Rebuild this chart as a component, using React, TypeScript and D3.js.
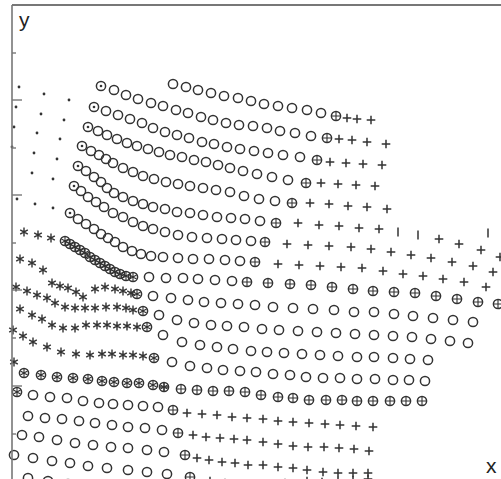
import React from "react";
import * as d3 from "d3";

const W = 501;
const H = 479;

// Marker codes: o circle, d circle+dot, p circle+plus, s circle+asterisk,
// q circle+plus+asterisk, + plus, * asterisk, | bar
const rowA_x = [1.73,1.86,1.98,2.11,2.24,2.38,2.51,2.64,2.78,2.92,3.07,3.21,3.36,3.47,3.57,3.71];
const rowA_y = [0.84,0.87,0.90,0.93,0.96,0.98,1.01,1.04,1.06,1.08,1.10,1.13,1.16,1.18,1.19,1.20];
const rowA_m = "o".repeat(12) + "p+++";

const rowB_x = [1.01,1.14,1.26,1.38,1.51,1.63,1.76,1.88,2.01,2.13,2.26,2.39,2.53,2.67,2.80,2.95,3.11,3.27,3.39,3.52,3.67,3.86];
const rowB_y = [0.86,0.90,0.95,0.99,1.03,1.06,1.10,1.13,1.17,1.20,1.23,1.25,1.26,1.28,1.31,1.33,1.36,1.38,1.39,1.40,1.42,1.44];
const rowB_m = "d" + "o".repeat(16) + "p++++";

const rowC_x = [0.94,1.06,1.18,1.30,1.42,1.53,1.65,1.77,1.89,2.02,2.14,2.27,2.40,2.54,2.68,2.83,3.00,3.17,3.30,3.46,3.63,3.82];
const rowC_y = [1.07,1.11,1.15,1.19,1.23,1.28,1.32,1.35,1.38,1.42,1.44,1.47,1.49,1.51,1.53,1.55,1.57,1.60,1.62,1.63,1.64,1.65];
const rowC_m = "d" + "o".repeat(16) + "p++++";

const rowD_x = [0.88,0.98,1.07,1.17,1.27,1.37,1.48,1.59,1.70,1.82,1.94,2.06,2.18,2.30,2.43,2.57,2.72,2.88,3.06,3.21,3.38,3.56,3.75];
const rowD_y = [1.27,1.31,1.35,1.39,1.43,1.46,1.49,1.52,1.55,1.57,1.60,1.62,1.65,1.68,1.71,1.74,1.77,1.80,1.83,1.83,1.84,1.85,1.86];
const rowD_m = "d" + "o".repeat(17) + "p++++";

const rowE_x = [0.82,0.91,0.99,1.06,1.13,1.23,1.33,1.43,1.54,1.66,1.78,1.90,2.03,2.16,2.30,2.44,2.59,2.75,2.92,3.10,3.29,3.48,3.67,3.87];
const rowE_y = [1.46,1.51,1.55,1.59,1.63,1.68,1.72,1.76,1.79,1.82,1.84,1.86,1.88,1.90,1.92,1.96,1.99,2.01,2.03,2.03,2.04,2.06,2.07,2.09];
const rowE_m = "d" + "o".repeat(17) + "p+++++";

const rowF_x = [0.78,0.86,0.94,1.01,1.07,1.14,1.23,1.33,1.43,1.53,1.65,1.77,1.90,2.03,2.17,2.31,2.45,2.60,2.76,2.98,3.19,3.39,3.59,3.79,3.98,4.18,4.39,4.59,4.81,5.00];
const rowF_y = [1.66,1.71,1.77,1.82,1.88,1.93,1.97,2.01,2.04,2.07,2.09,2.12,2.13,2.15,2.17,2.18,2.19,2.21,2.23,2.23,2.25,2.26,2.28,2.29,2.32,2.35,2.39,2.44,2.50,2.57];
const rowF_m = "d" + "o".repeat(17) + "p+++++||++++";

const rowG_x = [0.74,0.81,0.88,0.96,1.04,1.13,1.23,1.33,1.43,1.53,1.65,1.78,1.92,2.07,2.22,2.36,2.51,2.65,2.87,3.08,3.29,3.51,3.71,3.91,4.11,4.31,4.52,4.73,4.93];
const rowG_y = [1.86,1.91,1.97,2.02,2.07,2.13,2.17,2.22,2.26,2.29,2.32,2.35,2.37,2.38,2.39,2.40,2.41,2.42,2.44,2.45,2.46,2.47,2.49,2.52,2.55,2.58,2.62,2.66,2.72];
const rowG_m = "d" + "o".repeat(16) + "p" + "+".repeat(11);

const rowH_x = [0.70,0.78,0.86,0.94,1.01,1.08,1.15,1.23,1.32,1.41,1.51,1.63,1.78,1.93,2.09,2.25,2.40,2.55,2.78,2.99,3.20,3.41,3.62,3.83,4.03,4.23,4.43,4.64,4.86];
const rowH_y = [2.13,2.19,2.24,2.29,2.34,2.38,2.42,2.47,2.51,2.54,2.56,2.57,2.58,2.59,2.59,2.60,2.61,2.62,2.64,2.65,2.66,2.67,2.68,2.71,2.74,2.76,2.79,2.82,2.87];
const rowH_m = "d" + "o".repeat(16) + "p" + "+".repeat(11);

const rowI_x = [0.24,0.38,0.51,0.65,0.70,0.75,0.80,0.85,0.90,0.95,1.00,1.05,1.10,1.15,1.20,1.26,1.33,1.49,1.66,1.83,1.98,2.15,2.32,2.47,2.68,2.90,3.11,3.32,3.53,3.73,3.94,4.15,4.36,4.57,4.78,4.98];
const rowI_y = [2.32,2.35,2.38,2.41,2.44,2.47,2.50,2.53,2.57,2.60,2.63,2.66,2.69,2.72,2.74,2.76,2.77,2.77,2.78,2.78,2.79,2.80,2.81,2.82,2.83,2.84,2.85,2.87,2.89,2.91,2.92,2.93,2.96,2.99,3.02,3.04];
const rowI_m = "***" + "s".repeat(14) + "o".repeat(6) + "p".repeat(13);

const rowJ_x = [0.20,0.32,0.43,0.52,0.60,0.68,0.76,0.83,0.95,1.05,1.15,1.23,1.31,1.37,1.53,1.71,1.88,2.04,2.21,2.38,2.55,2.73,2.93,3.13,3.34,3.54,3.74,3.94,4.13,4.33,4.53,4.73];
const rowJ_y = [2.59,2.63,2.70,2.83,2.86,2.88,2.92,2.97,2.89,2.87,2.89,2.91,2.93,2.94,2.96,2.98,3.00,3.02,3.03,3.04,3.05,3.07,3.08,3.09,3.10,3.12,3.12,3.14,3.16,3.18,3.20,3.22];
const rowJ_m = "*".repeat(13) + "s" + "o".repeat(18);

const rowK_x = [0.16,0.27,0.37,0.47,0.55,0.65,0.75,0.85,0.95,1.06,1.17,1.26,1.33,1.43,1.59,1.77,1.94,2.11,2.27,2.44,2.62,2.79,2.98,3.17,3.36,3.55,3.74,3.93,4.12,4.31,4.50,4.68];
const rowK_y = [2.87,2.91,2.95,2.98,3.03,3.07,3.08,3.08,3.08,3.07,3.07,3.08,3.10,3.11,3.15,3.20,3.23,3.25,3.26,3.27,3.29,3.30,3.31,3.32,3.33,3.34,3.35,3.36,3.37,3.39,3.41,3.43];
const rowK_m = "*".repeat(13) + "s" + "o".repeat(18);

const rowL_x = [0.20,0.32,0.42,0.52,0.63,0.75,0.86,0.97,1.07,1.17,1.27,1.37,1.47,1.63,1.82,2.00,2.17,2.33,2.51,2.67,2.84,3.02,3.20,3.38,3.57,3.74,3.93,4.10,4.28];
const rowL_y = [3.09,3.15,3.19,3.25,3.28,3.28,3.25,3.25,3.25,3.26,3.26,3.27,3.27,3.35,3.42,3.45,3.47,3.49,3.51,3.52,3.53,3.54,3.55,3.56,3.57,3.57,3.58,3.59,3.60];
const rowL_m = "*".repeat(12) + "s" + "o".repeat(16);

const rowM_x = [0.13,0.23,0.33,0.47,0.61,0.76,0.90,1.02,1.12,1.23,1.33,1.43,1.54,1.72,1.90,2.07,2.23,2.40,2.56,2.73,2.90,3.06,3.23,3.40,3.57,3.75,3.93,4.09,4.25];
const rowM_y = [3.30,3.36,3.42,3.47,3.52,3.54,3.55,3.54,3.54,3.55,3.55,3.56,3.58,3.62,3.66,3.68,3.70,3.71,3.72,3.74,3.75,3.77,3.78,3.78,3.79,3.79,3.80,3.80,3.81];
const rowM_m = "*".repeat(12) + "s" + "o".repeat(16);

const rowN_x = [0.14,0.24,0.41,0.57,0.73,0.88,1.02,1.14,1.27,1.39,1.53,1.64,1.81,1.97,2.13,2.29,2.45,2.61,2.78,2.93,3.09,3.26,3.42,3.57,3.73,3.90,4.06,4.22];
const rowN_y = [3.62,3.73,3.75,3.77,3.78,3.79,3.81,3.82,3.83,3.83,3.85,3.87,3.89,3.90,3.91,3.91,3.92,3.95,3.97,3.98,4.00,4.00,4.00,4.01,4.01,4.01,4.01,4.01];
const rowN_m = "*" + "s".repeat(10) + "q" + "p".repeat(16);

const rowO_x = [0.17,0.33,0.50,0.67,0.83,0.99,1.13,1.28,1.43,1.58,1.73,1.87,2.02,2.17,2.32,2.47,2.63,2.78,2.93,3.09,3.25,3.40,3.56,3.73];
const rowO_y = [3.92,3.95,3.97,3.98,4.01,4.03,4.04,4.05,4.06,4.07,4.10,4.13,4.14,4.15,4.17,4.18,4.19,4.21,4.22,4.23,4.24,4.25,4.26,4.27];
const rowO_m = "s" + "o".repeat(9) + "p" + "+".repeat(13);

const rowP_x = [0.28,0.45,0.62,0.79,0.95,1.12,1.28,1.45,1.62,1.78,1.93,2.06,2.20,2.34,2.47,2.63,2.78,2.93,3.08,3.24,3.39,3.54,3.69];
const rowP_y = [4.16,4.18,4.19,4.21,4.23,4.25,4.27,4.28,4.30,4.33,4.35,4.37,4.38,4.39,4.40,4.42,4.44,4.46,4.47,4.47,4.48,4.49,4.51];
const rowP_m = "o".repeat(9) + "p" + "+".repeat(13);

const rowQ_x = [0.22,0.39,0.57,0.75,0.93,1.11,1.28,1.47,1.64,1.85,1.97,2.09,2.22,2.35,2.48,2.63,2.78,2.93,3.07,3.23,3.38,3.53,3.68];
const rowQ_y = [4.35,4.37,4.40,4.43,4.45,4.47,4.48,4.50,4.52,4.55,4.58,4.60,4.62,4.63,4.65,4.65,4.67,4.68,4.70,4.72,4.73,4.73,4.73];
const rowQ_m = "o".repeat(9) + "p" + "+".repeat(13);

const rowR_x = [0.14,0.33,0.52,0.70,0.88,1.07,1.28,1.47,1.67,1.90,2.10,2.25,2.40,2.55,2.70,2.85,3.07,3.22,3.38,3.53,3.68];
const rowR_y = [4.55,4.58,4.61,4.63,4.66,4.68,4.70,4.72,4.74,4.77,4.81,4.83,4.84,4.84,4.84,4.83,4.81,4.82,4.81,4.80,4.79];
const rowR_m = "o".repeat(9) + "p" + "+".repeat(11);

const rowS_x = [0.28,0.48,0.68,0.88];
const rowS_y = [4.78,4.81,4.84,4.86];
const rowS_m = "oooo";

const dots_x = [0.19,0.44,0.69,0.16,0.41,0.64,0.14,0.37,0.60,0.12,0.34,0.57,0.32,0.53,0.17,0.35,0.53];
const dots_y = [0.87,0.94,1.00,1.07,1.14,1.20,1.27,1.33,1.39,1.47,1.53,1.59,1.73,1.79,1.99,2.04,2.08];

const bars_x = [4.88];
const bars_y = [2.33];

const tickValues = [0.53, 1.0, 1.48, 1.95, 2.43, 2.9, 3.38, 3.86, 4.34];
const tickLong = [false, true, false, true, false, true, false, true, false];

const frameX0 = 0.12;
const frameY0 = 0.05;

const rows: [number[], number[], string][] = [
  [rowA_x, rowA_y, rowA_m], [rowB_x, rowB_y, rowB_m], [rowC_x, rowC_y, rowC_m],
  [rowD_x, rowD_y, rowD_m], [rowE_x, rowE_y, rowE_m], [rowF_x, rowF_y, rowF_m],
  [rowG_x, rowG_y, rowG_m], [rowH_x, rowH_y, rowH_m], [rowI_x, rowI_y, rowI_m],
  [rowJ_x, rowJ_y, rowJ_m], [rowK_x, rowK_y, rowK_m], [rowL_x, rowL_y, rowL_m],
  [rowM_x, rowM_y, rowM_m], [rowN_x, rowN_y, rowN_m], [rowO_x, rowO_y, rowO_m],
  [rowP_x, rowP_y, rowP_m], [rowQ_x, rowQ_y, rowQ_m], [rowR_x, rowR_y, rowR_m],
  [rowS_x, rowS_y, rowS_m],
];

const x = d3.scaleLinear().domain([0, 5.01]).range([0, W]);
const y = d3.scaleLinear().domain([0, 4.79]).range([0, H]);

const INK = "#333";
const SW = 1.5;
const R = 4.6;

function plusPath(cx: number, cy: number, r: number) {
  const p = d3.path();
  p.moveTo(cx - r, cy); p.lineTo(cx + r, cy);
  p.moveTo(cx, cy - r); p.lineTo(cx, cy + r);
  return p.toString();
}
function starPath(cx: number, cy: number, r: number) {
  const p = d3.path();
  [90, 30, -30].forEach((a) => {
    const t = (a * Math.PI) / 180;
    p.moveTo(cx + r * Math.cos(t), cy - r * Math.sin(t));
    p.lineTo(cx - r * Math.cos(t), cy + r * Math.sin(t));
  });
  return p.toString();
}

function Marker({ t, cx, cy }: { t: string; cx: number; cy: number }) {
  const ring = <circle cx={cx} cy={cy} r={R} fill="none" stroke={INK} strokeWidth={SW} />;
  switch (t) {
    case "o":
      return ring;
    case "d":
      return (<g>{ring}<circle cx={cx} cy={cy} r={1.3} fill={INK} /></g>);
    case "p":
      return (<g>{ring}<path d={plusPath(cx, cy, R)} stroke={INK} strokeWidth={1.1} fill="none" /></g>);
    case "s":
      return (<g>{ring}<path d={starPath(cx, cy, R - 0.5)} stroke={INK} strokeWidth={1.1} fill="none" /></g>);
    case "q":
      return (<g>{ring}<path d={plusPath(cx, cy, R)} stroke={INK} strokeWidth={1.3} fill="none" /><path d={starPath(cx, cy, R - 0.5)} stroke={INK} strokeWidth={1.1} fill="none" /></g>);
    case "+":
      return <path d={plusPath(cx, cy, 4.3)} stroke={INK} strokeWidth={SW} fill="none" />;
    case "*":
      return <path d={starPath(cx, cy, 4.4)} stroke={INK} strokeWidth={1.4} fill="none" />;
    case "|":
      return <line x1={cx} x2={cx} y1={cy - 4.5} y2={cy + 4.5} stroke={INK} strokeWidth={SW} />;
    default:
      return null;
  }
}

export default function App() {
  const fx = x(frameX0);
  const fy = y(frameY0);
  return (
    <svg width={W} height={H} style={{ position: "absolute", left: 0, top: 0, background: "#fff" }}
      fontFamily="'Liberation Sans', Arial, sans-serif">
      <rect x={0} y={0} width={W} height={H} fill="#fff" />
      {rows.map(([xs, ys, ms], ri) => (
        <g key={ri}>
          {xs.map((v, i) => (
            <Marker key={i} t={ms[i]} cx={x(v)} cy={y(ys[i])} />
          ))}
        </g>
      ))}
      {dots_x.map((v, i) => (
        <circle key={"d" + i} cx={x(v)} cy={y(dots_y[i])} r={1.4} fill={INK} />
      ))}
      {bars_x.map((v, i) => (
        <Marker key={"b" + i} t="|" cx={x(v)} cy={y(bars_y[i])} />
      ))}
      <line x1={fx} x2={W} y1={fy} y2={fy} stroke="#777" strokeWidth={2} />
      <line x1={fx} x2={fx} y1={fy} y2={H} stroke="#777" strokeWidth={1.6} />
      {tickValues.map((t, i) => (
        <line key={"t" + i} x1={fx} x2={fx + (tickLong[i] ? 10 : 4)} y1={y(t)} y2={y(t)} stroke="#777" strokeWidth={1.4} />
      ))}
      <text x={x(0.19)} y={y(0.27)} fontSize={21} fill="#222">y</text>
      <text x={x(4.86)} y={y(4.73)} fontSize={21} fill="#222">x</text>
    </svg>
  );
}
